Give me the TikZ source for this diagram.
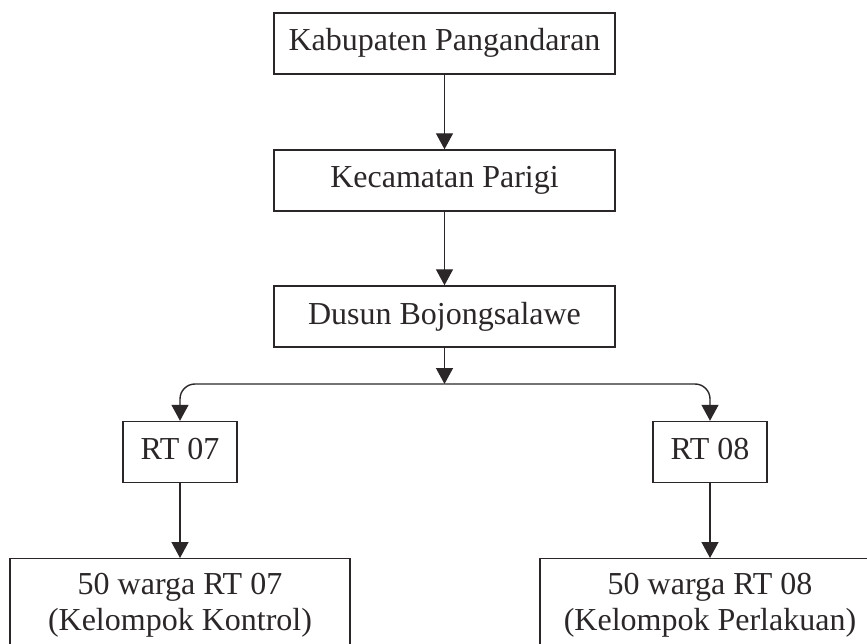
\documentclass[tikz,border=0pt]{standalone}
\usepackage{fontspec}
\setmainfont{Liberation Serif}
\usetikzlibrary{arrows.meta,positioning}
\definecolor{lineDark}{HTML}{2B2728}

\begin{document}
\begin{tikzpicture}[x=1pt,y=-1pt,
  wbox/.style={draw=lineDark,line width=1.4pt,text=lineDark,
               font=\fontsize{32}{36}\selectfont,
               minimum width=341pt,minimum height=61pt,
               text height=22pt,text depth=7pt,inner sep=0pt},
  rtbox/.style={wbox,minimum width=114pt},
  gbox/.style={draw=lineDark,line width=1.4pt,text=lineDark,
               font=\fontsize{32}{36}\selectfont,align=center,
               minimum width=340pt,minimum height=94pt,inner sep=0pt},
  arr/.style={-{Triangle[width=17pt,length=16pt]},lineDark,line width=1.4pt}]

\clip (0,0) rectangle (867,644);

%% Top chain
\node[wbox] (kab)   at (444.5,43.5)  {Kabupaten Pangandaran};
\node[wbox] (kec)   at (444.5,180.5) {Kecamatan Parigi};
\node[wbox] (dusun) at (444.5,316.5) {Dusun Bojongsalawe};

\draw[arr] (kab)--(kec);
\draw[arr] (kec)--(dusun);

%% Split into RT
\coordinate (split) at (444.5,384);
\draw[arr] (dusun)--(split);

\node[rtbox] (rt07) at (180,452) {RT 07};
\node[rtbox] (rt08) at (710,452) {RT 08};

\draw[arr,rounded corners=15pt] (split) -| (rt07);
\draw[arr,rounded corners=15pt] (split) -| (rt08);

%% Groups (bottom)
\node[gbox,anchor=north] (grp07) at (180,558) {50 warga RT 07\\(Kelompok Kontrol)};
\node[gbox,anchor=north] (grp08) at (710,558) {50 warga RT 08\\(Kelompok Perlakuan)};

\draw[arr] (rt07)--(grp07);
\draw[arr] (rt08)--(grp08);
\end{tikzpicture}
\end{document}
